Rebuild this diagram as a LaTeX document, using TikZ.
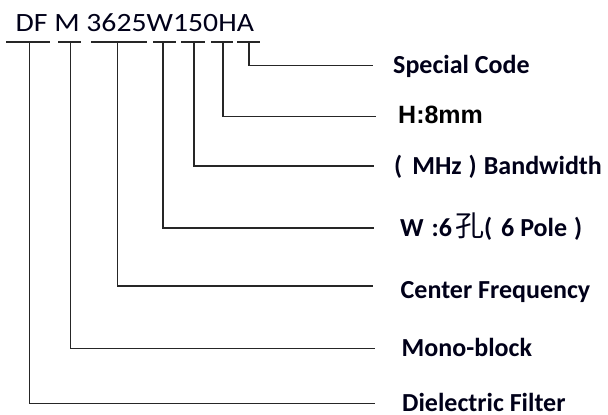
\documentclass[tikz,border=0pt]{standalone}
\usepackage{fontspec}
\setmainfont{Carlito}
\newfontfamily\arialfam{Liberation Sans}
\newfontfamily\cjkfont{Noto Sans CJK SC}
\begin{document}
\begin{tikzpicture}[x=1bp,y=-1bp,
  conn/.style={line width=1.4bp, draw=black!85},
  lbl/.style={inner sep=0pt, anchor=base west, text=black!90!blue,
     font=\fontsize{26bp}{30bp}\selectfont\bfseries},
  hlbl/.style={inner sep=0pt, anchor=base west, text=black,
     font=\arialfam\bfseries\fontsize{25bp}{30bp}\selectfont},
  ttl/.style={inner sep=0pt, anchor=base west, text=black!90!blue,
     font=\fontsize{26.4bp}{30bp}\selectfont}]
\useasboundingbox[fill=white] (0,0) rectangle (608,414);

% title
\node[ttl] (title) at (15.5,31) {\scalebox{1.125}[1]{DF M 3625W150HA}};

% bars under code parts
\foreach \n/\a/\b in {df/6/50, m/58/81, fq/91/147, w/153/176, bw/181/205, h/211/233, sp/237/260}{
  \coordinate (\n-l) at (\a,42);
  \coordinate (\n-r) at (\b,42);
  \draw[conn] (\n-l) -- (\n-r);
}

% tops of leaders
\coordinate (df-t) at (29.3,42);
\coordinate (m-t) at (70.7,42);
\coordinate (fq-t) at (117.3,42);
\coordinate (w-t) at (163,42);
\coordinate (bw-t) at (194,42);
\coordinate (h-t) at (223,42);
\coordinate (sp-t) at (249,42);

% leader ends
\coordinate (sp-e) at (373,65.7);
\coordinate (h-e) at (376,116.7);
\coordinate (bw-e) at (374,166);
\coordinate (w-e) at (374,228);
\coordinate (fq-e) at (373,286);
\coordinate (m-e) at (375,348.7);
\coordinate (df-e) at (375,403.7);

\foreach \n in {sp,h,bw,w,fq,m,df}{
  \draw[conn] (\n-t) |- (\n-e);
}

% labels
\node[lbl] (sp-lab) at (393,73.9) {Special Code};
\node[hlbl] (h-lab) at (398,123) {H:8mm};
\node[lbl] (bw-lab) at (394,174.2) {(\hspace{10bp}MHz\hspace{7bp})\hspace{7bp}Bandwidth};
\node[lbl] (w-lab) at (400,236.2) {W\hspace{8bp}:6\hspace{3bp}{\cjkfont\mdseries\fontsize{29bp}{30bp}\selectfont 孔}(\hspace{9bp}6 Pole\hspace{7bp})};
\node[lbl] (fq-lab) at (400.5,298.2) {Center Frequency};
\node[lbl] (m-lab) at (401.5,356.9) {Mono-block};
\node[lbl] (df-lab) at (402,411.5) {Dielectric Filter};
\end{tikzpicture}
\end{document}
